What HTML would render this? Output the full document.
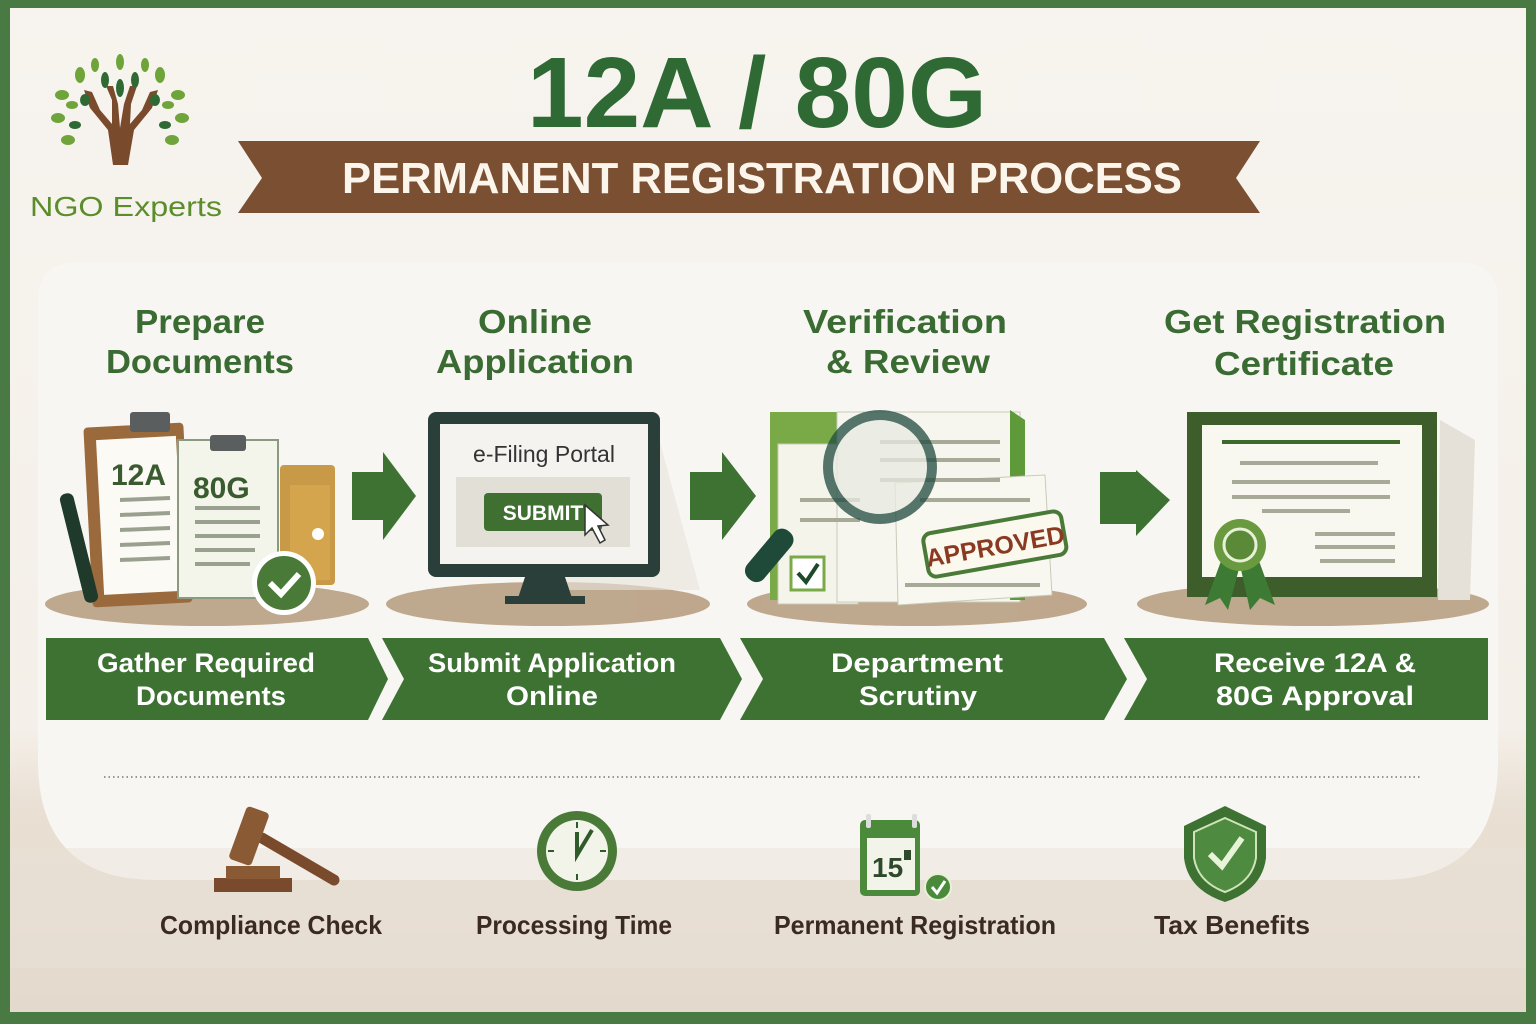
<!DOCTYPE html>
<html><head><meta charset="utf-8"><style>
html,body{margin:0;padding:0;width:1536px;height:1024px;overflow:hidden;background:#4a7a44}
svg{display:block}
text{font-family:"Liberation Sans",sans-serif}
</style></head><body>
<svg width="1536" height="1024" viewBox="0 0 1536 1024" xmlns="http://www.w3.org/2000/svg">
<defs>
<linearGradient id="bg" x1="0" y1="0" x2="0" y2="1">
<stop offset="0" stop-color="#f7f4ef"/><stop offset="0.72" stop-color="#f4efe8"/><stop offset="0.8" stop-color="#e9dfd3"/><stop offset="1" stop-color="#e3d9cc"/>
</linearGradient>
</defs>
<rect x="10" y="8" width="1516" height="1004" fill="url(#bg)"/>
<path d="M38 300 Q38 262 80 262 L1456 262 Q1498 262 1498 300 L1498 760 Q1498 880 1380 880 L156 880 Q38 880 38 760 Z" fill="#f8f6f2"/>
<rect x="10" y="848" width="1516" height="120" fill="#eae2d7" opacity="0.5"/>

<g>
<path d="M113 165 L108 130 L90 108 L84 90 L92 92 L100 110 L112 124 L112 100 L106 86 L113 86 L118 104 L120 128 L124 104 L130 86 L137 86 L131 104 L130 124 L142 110 L150 92 L158 90 L152 108 L134 130 L128 165 Z" fill="#7a4a2c"/>
<g fill="#6ea43a">
<ellipse cx="80" cy="75" rx="5" ry="8"/><ellipse cx="95" cy="65" rx="4" ry="7"/><ellipse cx="120" cy="62" rx="4" ry="8"/><ellipse cx="145" cy="65" rx="4" ry="7"/><ellipse cx="160" cy="75" rx="5" ry="8"/>
<ellipse cx="62" cy="95" rx="7" ry="5"/><ellipse cx="178" cy="95" rx="7" ry="5"/><ellipse cx="58" cy="118" rx="7" ry="5"/><ellipse cx="182" cy="118" rx="7" ry="5"/><ellipse cx="68" cy="140" rx="7" ry="5"/><ellipse cx="172" cy="140" rx="7" ry="5"/><ellipse cx="72" cy="105" rx="6" ry="4"/><ellipse cx="168" cy="105" rx="6" ry="4"/>
</g>
<g fill="#2f6a35">
<ellipse cx="105" cy="80" rx="4" ry="8"/><ellipse cx="135" cy="80" rx="4" ry="8"/><ellipse cx="120" cy="88" rx="4" ry="9"/><ellipse cx="85" cy="100" rx="5" ry="6"/><ellipse cx="155" cy="100" rx="5" ry="6"/><ellipse cx="75" cy="125" rx="6" ry="4"/><ellipse cx="165" cy="125" rx="6" ry="4"/>
</g>
<text x="30" y="216" font-size="28" fill="#5c8d2b" textLength="192" lengthAdjust="spacingAndGlyphs">NGO Experts</text>
</g>

<text x="757" y="127" text-anchor="middle" font-size="100" font-weight="bold" fill="#2f6a35" textLength="460" lengthAdjust="spacingAndGlyphs">12A / 80G</text>
<path d="M238 141 L1260 141 L1236 178 L1260 213 L238 213 L262 178 Z" fill="#7a4f32"/>
<text x="762" y="193" text-anchor="middle" font-size="44" font-weight="bold" fill="#fbf5ec" textLength="840" lengthAdjust="spacingAndGlyphs">PERMANENT REGISTRATION PROCESS</text>

<g font-size="33" font-weight="bold" fill="#3a6b33" text-anchor="middle">
<text x="200" y="333" textLength="130" lengthAdjust="spacingAndGlyphs">Prepare</text>
<text x="200" y="373" textLength="188" lengthAdjust="spacingAndGlyphs">Documents</text>
<text x="535" y="333" textLength="114" lengthAdjust="spacingAndGlyphs">Online</text>
<text x="535" y="373" textLength="198" lengthAdjust="spacingAndGlyphs">Application</text>
<text x="905" y="333" textLength="204" lengthAdjust="spacingAndGlyphs">Verification</text>
<text x="908" y="373" textLength="164" lengthAdjust="spacingAndGlyphs">&amp; Review</text>
<text x="1305" y="333" textLength="282" lengthAdjust="spacingAndGlyphs">Get Registration</text>
<text x="1304" y="375" textLength="180" lengthAdjust="spacingAndGlyphs">Certificate</text>
</g>

<g fill="#b49a7c" opacity="0.85">
<ellipse cx="207" cy="604" rx="162" ry="22"/>
<ellipse cx="548" cy="604" rx="162" ry="22"/>
<ellipse cx="917" cy="604" rx="170" ry="22"/>
<ellipse cx="1313" cy="604" rx="176" ry="22"/>
</g>

<g>
<rect x="88" y="425" width="100" height="180" rx="4" fill="#9a6a3c" transform="rotate(-3 138 515)"/>
<rect x="100" y="438" width="80" height="155" fill="#fbfaf4" transform="rotate(-3 138 515)"/>
<rect x="130" y="412" width="40" height="20" rx="3" fill="#5a5e5e"/>
<text x="111" y="485" font-size="30" font-weight="bold" fill="#3a5a30">12A</text>
<rect x="178" y="440" width="100" height="158" fill="#f4f5ea" stroke="#8a9a80" stroke-width="2"/>
<rect x="210" y="435" width="36" height="16" rx="3" fill="#5a5e5e"/>
<text x="193" y="498" font-size="30" font-weight="bold" fill="#3a5a30">80G</text>
<g stroke="#9aa090" stroke-width="4">
<line x1="120" y1="500" x2="170" y2="498"/><line x1="120" y1="515" x2="170" y2="513"/><line x1="120" y1="530" x2="170" y2="528"/><line x1="120" y1="545" x2="170" y2="543"/><line x1="120" y1="560" x2="170" y2="558"/>
<line x1="195" y1="508" x2="260" y2="508"/><line x1="195" y1="522" x2="260" y2="522"/><line x1="195" y1="536" x2="260" y2="536"/><line x1="195" y1="550" x2="255" y2="550"/><line x1="195" y1="564" x2="250" y2="564"/>
</g>
<rect x="280" y="465" width="55" height="120" rx="4" fill="#c89a48"/>
<rect x="290" y="485" width="40" height="95" fill="#d4a54c"/>
<circle cx="318" cy="534" r="6" fill="#fff"/>
<rect x="72" y="492" width="14" height="112" rx="6" fill="#1f3a2a" transform="rotate(-14 79 548)"/>
<circle cx="284" cy="583" r="32" fill="#fff"/>
<circle cx="284" cy="583" r="27" fill="#4a7a38"/>
<path d="M270 583 L281 594 L299 574" stroke="#fff" stroke-width="6" fill="none"/>
</g>

<g fill="#3d7233">
<path d="M352 472 L383 472 L383 452 L416 496 L383 540 L383 520 L352 520 Z"/>
<path d="M690 472 L722 472 L722 452 L756 496 L722 540 L722 520 L690 520 Z"/>
<path d="M1100 472 L1136 472 L1136 470 L1170 500 L1136 536 L1136 524 L1100 524 Z"/>
</g>

<g>
<path d="M654 420 L700 590 L560 590 Z" fill="#e8e4dc" opacity="0.6"/>
<rect x="428" y="412" width="232" height="165" rx="8" fill="#2b3f3a"/>
<rect x="440" y="424" width="208" height="140" fill="#f4f3ef"/>
<text x="544" y="462" text-anchor="middle" font-size="23" fill="#333">e-Filing Portal</text>
<rect x="456" y="477" width="174" height="70" fill="#e2dfd6"/>
<rect x="484" y="493" width="118" height="38" rx="4" fill="#3f7032"/>
<text x="543" y="520" text-anchor="middle" font-size="21" font-weight="bold" fill="#fff">SUBMIT</text>
<path d="M585 505 L585 535 L592 528 L600 543 L605 540 L598 526 L608 525 Z" fill="#fff" stroke="#333" stroke-width="1.5"/>
<path d="M525 577 L565 577 L572 598 L518 598 Z" fill="#2b3f3a"/>
<rect x="505" y="596" width="80" height="8" fill="#2b3f3a"/>
</g>

<g>
<path d="M770 412 L915 412 L960 440 L960 600 L770 600 Z" fill="#7aaa48"/>
<rect x="778" y="444" width="80" height="160" fill="#f4f4ea" stroke="#c8cab8"/>
<rect x="837" y="412" width="183" height="190" fill="#f7f6ee" stroke="#c8cab8"/>
<path d="M1010 410 L1025 420 L1025 600 L1010 600 Z" fill="#5e9a3a"/>
<path d="M895 483 L1045 475 L1052 595 L898 605 Z" fill="#f8f8f0" stroke="#c8cab8"/>
<g stroke="#a8aa98" stroke-width="4">
<line x1="880" y1="442" x2="1000" y2="442"/><line x1="880" y1="460" x2="1000" y2="460"/><line x1="880" y1="480" x2="1000" y2="480"/><line x1="800" y1="500" x2="860" y2="500"/><line x1="800" y1="520" x2="860" y2="520"/><line x1="920" y1="500" x2="1030" y2="500"/><line x1="905" y1="585" x2="1040" y2="585"/>
</g>
<rect x="791" y="557" width="33" height="33" fill="#fff" stroke="#7aaa48" stroke-width="3"/>
<path d="M798 573 L806 582 L818 564" stroke="#1f4a2a" stroke-width="4" fill="none"/>
<g transform="rotate(-10 995 545)">
<rect x="925" y="522" width="140" height="44" rx="8" fill="#fbf8ee" stroke="#4a7a38" stroke-width="4"/>
<text x="995" y="555" text-anchor="middle" font-size="25" font-weight="bold" fill="#8a3a22">APPROVED</text>
</g>
<rect x="758" y="525" width="22" height="62" rx="10" fill="#1f4a3a" transform="rotate(40 770 556)"/>
<circle cx="880" cy="467" r="52" fill="#e8ebe2" opacity="0.75" stroke="#1f4a3f" stroke-width="10"/>
</g>

<g>
<path d="M1440 420 L1475 440 L1470 600 L1438 600 Z" fill="#e5e1d9"/>
<rect x="1187" y="412" width="250" height="185" fill="#3d5e2b"/>
<rect x="1202" y="425" width="220" height="152" fill="#f8f8f0"/>
<g stroke="#a8aa98" stroke-width="4">
<line x1="1222" y1="442" x2="1400" y2="442" stroke="#3d6a2b"/>
<line x1="1240" y1="463" x2="1378" y2="463"/><line x1="1232" y1="482" x2="1390" y2="482"/><line x1="1232" y1="497" x2="1390" y2="497"/><line x1="1262" y1="511" x2="1350" y2="511"/><line x1="1315" y1="534" x2="1395" y2="534"/><line x1="1315" y1="547" x2="1395" y2="547"/><line x1="1320" y1="561" x2="1395" y2="561"/>
</g>
<path d="M1225 550 L1205 605 L1220 598 L1228 610 L1240 565 L1250 610 L1260 598 L1275 605 L1255 550 Z" fill="#3d7a33"/>
<circle cx="1240" cy="545" r="26" fill="#6a9a40"/>
<circle cx="1240" cy="545" r="16" fill="#5a8a38" stroke="#e8f0d8" stroke-width="3"/>
</g>

<g fill="#3d7233">
<path d="M46 638 L368 638 L388 679 L368 720 L46 720 Z"/>
<path d="M382 638 L720 638 L742 679 L720 720 L382 720 L404 679 Z"/>
<path d="M740 638 L1104 638 L1127 679 L1104 720 L740 720 L763 679 Z"/>
<path d="M1124 638 L1488 638 L1488 720 L1124 720 L1147 679 Z"/>
</g>
<g font-size="27" font-weight="bold" fill="#ffffff" text-anchor="middle">
<text x="206" y="672" textLength="218" lengthAdjust="spacingAndGlyphs">Gather Required</text>
<text x="211" y="705" textLength="150" lengthAdjust="spacingAndGlyphs">Documents</text>
<text x="552" y="672" textLength="248" lengthAdjust="spacingAndGlyphs">Submit Application</text>
<text x="552" y="705" textLength="92" lengthAdjust="spacingAndGlyphs">Online</text>
<text x="917" y="672" textLength="172" lengthAdjust="spacingAndGlyphs">Department</text>
<text x="918" y="705" textLength="118" lengthAdjust="spacingAndGlyphs">Scrutiny</text>
<text x="1315" y="672" textLength="202" lengthAdjust="spacingAndGlyphs">Receive 12A &amp;</text>
<text x="1315" y="705" textLength="198" lengthAdjust="spacingAndGlyphs">80G Approval</text>
</g>

<line x1="104" y1="777" x2="1422" y2="777" stroke="#777" stroke-width="1.5" stroke-dasharray="1.5 3"/>

<g>
<rect x="214" y="878" width="78" height="14" fill="#7a4a2c"/>
<rect x="226" y="866" width="54" height="13" fill="#8a5a34"/>
<line x1="262" y1="838" x2="334" y2="880" stroke="#7a4a2c" stroke-width="11" stroke-linecap="round"/>
<rect x="237" y="808" width="24" height="56" rx="4" fill="#8a5a34" transform="rotate(20 249 836)"/>
</g>
<g>
<circle cx="577" cy="851" r="40" fill="#4a7a38"/>
<circle cx="577" cy="851" r="31" fill="#f2f4ea"/>
<path d="M577 832 L577 855 L592 830" stroke="#2f5a2a" stroke-width="4" fill="none"/>
<g stroke="#2f5a2a" stroke-width="2"><line x1="577" y1="822" x2="577" y2="828"/><line x1="577" y1="874" x2="577" y2="880"/><line x1="548" y1="851" x2="554" y2="851"/><line x1="600" y1="851" x2="606" y2="851"/></g>
</g>
<g>
<rect x="860" y="820" width="60" height="76" rx="5" fill="#4a8a3a"/>
<rect x="867" y="838" width="48" height="52" fill="#f2f4ea"/>
<rect x="866" y="814" width="5" height="14" rx="2" fill="#ddd"/><rect x="912" y="814" width="5" height="14" rx="2" fill="#ddd"/>
<text x="872" y="877" font-size="28" font-weight="bold" fill="#2f4a2a">15</text>
<rect x="904" y="850" width="7" height="10" fill="#2f4a2a"/>
<circle cx="938" cy="887" r="13" fill="#4a8a3a" stroke="#e8f0d8" stroke-width="2"/>
<path d="M932 887 L937 893 L945 881" stroke="#fff" stroke-width="3" fill="none"/>
</g>
<g>
<path d="M1225 806 L1266 826 L1266 858 Q1262 890 1225 902 Q1188 890 1184 858 L1184 826 Z" fill="#3d7233"/>
<path d="M1225 818 L1256 832 L1256 858 Q1252 882 1225 892 Q1198 882 1194 858 L1194 832 Z" fill="#4e8a40" stroke="#cfe4b8" stroke-width="2"/>
<path d="M1210 854 L1222 866 L1242 838" stroke="#e8f4d8" stroke-width="6" fill="none"/>
</g>
<g font-size="26" font-weight="bold" fill="#3a2a20" text-anchor="middle">
<text x="271" y="934" textLength="222" lengthAdjust="spacingAndGlyphs">Compliance Check</text>
<text x="574" y="934" textLength="196" lengthAdjust="spacingAndGlyphs">Processing Time</text>
<text x="915" y="934" textLength="282" lengthAdjust="spacingAndGlyphs">Permanent Registration</text>
<text x="1232" y="934" textLength="156" lengthAdjust="spacingAndGlyphs">Tax Benefits</text>
</g>
</svg>
</body></html>
